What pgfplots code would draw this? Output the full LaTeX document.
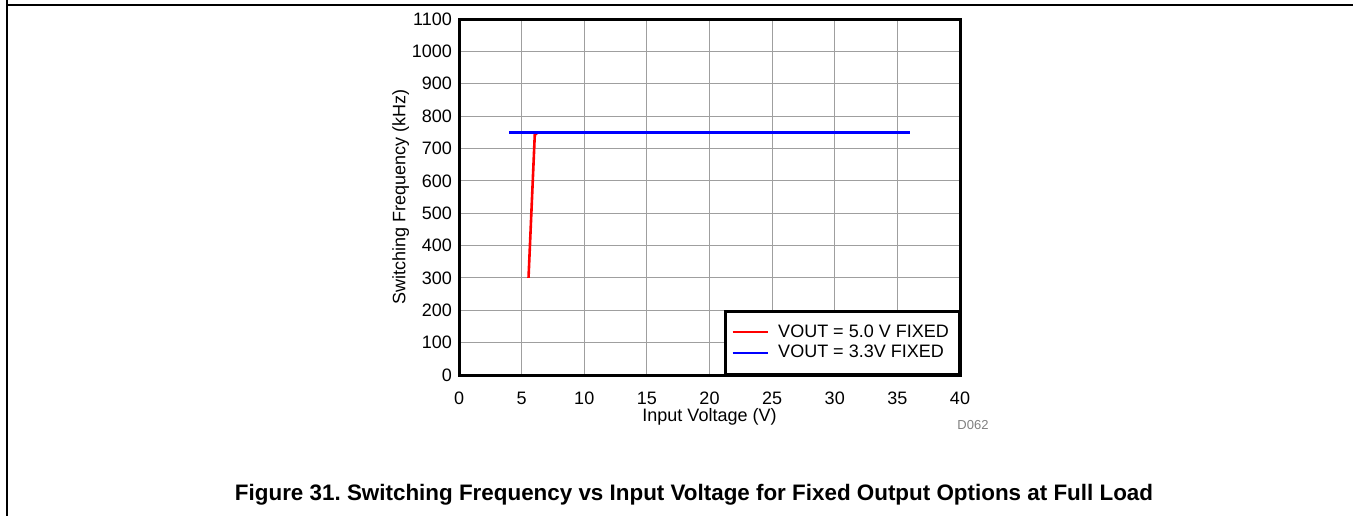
\documentclass[border=0pt]{standalone}
\usepackage{fontspec}
\setmainfont{Liberation Sans}
\usepackage{pgfplots}
\pgfplotsset{compat=1.18}
\frenchspacing
\begin{document}
\begin{tikzpicture}[x=0.5pt,y=0.5pt]
\path[use as bounding box] (0,0) rectangle (1353,516);
\draw[line width=0.8pt] (7,516) -- (7,511) -- (1353,511);
\draw[line width=0.8pt] (7,511) -- (7,0);
\begin{axis}[
  at={(229.5pt,70.5pt)}, anchor=south west,
  scale only axis, width=250.5pt, height=178pt,
  xmin=0, xmax=40, ymin=0, ymax=1100,
  xtick={0,5,...,40}, ytick={0,100,...,1100},
  grid=major,
  major grid style={gray!75, line width=0.5pt},
  axis line style={line width=1.5pt},
  tick style={draw=none},
  tick label style={font=\fontsize{9}{10}\selectfont},
  /pgf/number format/assume math mode=true,
  /pgf/number format/set thousands separator={},
  xticklabel style={yshift=-5pt},
  label style={font=\fontsize{9}{10}\selectfont},
  xlabel={Input Voltage (V)},
  ylabel={Switching Frequency (kHz)},
  xlabel style={yshift=5pt},
  ylabel style={yshift=-5.5pt},
  legend style={font=\fontsize{9}{10}\selectfont, draw=black, line width=1.2pt, fill=white,
    inner xsep=3pt, inner ysep=4.5pt, row sep=-1.5pt, at={(1,0)}, anchor=south east, legend cell align=left},
  legend image code/.code={\draw[#1, line width=1pt] (0cm,0cm) -- (0.62cm,0cm); \path (0.71cm,0cm);},
]
\addplot[red, line width=1.3pt] coordinates {(5.55,300) (6.05,742) (6.3,750)};
\addlegendentry{VOUT = 5.0 V FIXED}
\addplot[blue, line width=1.3pt] coordinates {(4.0,750) (36.0,750)};
\addlegendentry{VOUT = 3.3V FIXED}
\end{axis}
\node[text=gray, font=\fontsize{6.5}{7}\selectfont] at (973,91) {D062};
\node[font=\bfseries\fontsize{11.2}{12}\selectfont] at (694,21) {Figure 31. Switching Frequency vs Input Voltage for Fixed Output Options at Full Load};
\end{tikzpicture}
\end{document}
